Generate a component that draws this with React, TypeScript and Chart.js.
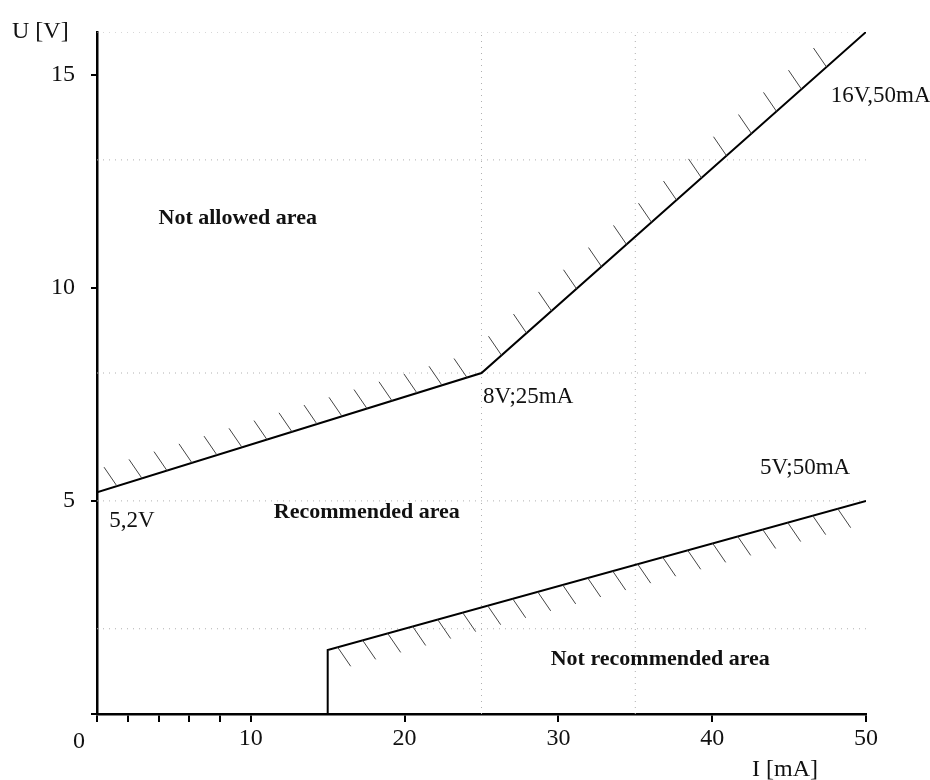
import React, { useEffect, useRef } from "react";
import { Chart, registerables } from "chart.js";

Chart.register(...registerables);

// ---- data ----
const upperCurrent = [0, 25, 50];
const upperVoltage = [5.2, 8, 16];
const lowerCurrent = [15, 15, 50];
const lowerVoltage = [0, 1.5, 5];

const xTickValues = [0, 2, 4, 6, 8, 10, 20, 30, 40, 50];
const xLabelValues = [10, 20, 30, 40, 50];
const yTickValues = [0, 5, 10, 15];
const yLabelValues = [5, 10, 15];

const gridVoltages = [2, 5, 8, 13, 16];
const gridCurrents = [25, 35];

const areaLabels = ["Not allowed area", "Recommended area", "Not recommended area"];
const areaLabelCurrent = [4, 11.5, 29.5];
const areaLabelVoltage = [11.5, 4.6, 1.15];

const pointLabels = ["5,2V", "8V;25mA", "16V,50mA", "5V;50mA"];
const pointLabelCurrent = [0.8, 25.1, 47.7, 43.1];
const pointLabelVoltage = [4.38, 7.3, 14.35, 5.62];

const xMin = 0;
const xMax = 50;
const yMin = 0;
const yMax = 16;

const SERIF = '"Liberation Serif", "Times New Roman", serif';

const zip = (xs: number[], ys: number[]) => xs.map((x, i) => ({ x, y: ys[i] }));

const hatchPlugin = {
  id: "hatch",
  afterDatasetsDraw(chart: any) {
    const ctx = chart.ctx;
    const area = chart.chartArea;
    chart.data.datasets.forEach((ds: any, i: number) => {
      if (!ds.hatch) return;
      const pts = chart.getDatasetMeta(i).data;
      const s = ds.hatch === "above" ? -1 : 1;
      ctx.save();
      ctx.strokeStyle = "#444";
      ctx.lineWidth = 1;
      ctx.beginPath();
      for (let k = 0; k < pts.length - 1; k++) {
        const a = pts[k];
        const b = pts[k + 1];
        if (Math.abs(b.x - a.x) < 1) continue;
        const start = s < 0 ? 20 : 10;
        for (let px = a.x + start; px < b.x - 8; px += 25) {
          const t = (px - a.x) / (b.x - a.x);
          const py = a.y + t * (b.y - a.y);
          const ex = px + s * 13;
          const ey = py + s * 19;
          if (ey < area.top + 8 || ey > area.bottom - 2) continue;
          ctx.moveTo(px, py);
          ctx.lineTo(ex, ey);
        }
      }
      ctx.stroke();
      ctx.restore();
    });
  },
};

const textPlugin = {
  id: "texts",
  afterDraw(chart: any) {
    const ctx = chart.ctx;
    const xs = chart.scales.x;
    const ys = chart.scales.y;
    const area = chart.chartArea;
    ctx.save();
    ctx.fillStyle = "#111";
    ctx.textAlign = "left";
    ctx.textBaseline = "alphabetic";

    ctx.font = `bold 22px ${SERIF}`;
    areaLabels.forEach((t, i) => {
      ctx.fillText(t, xs.getPixelForValue(areaLabelCurrent[i]), ys.getPixelForValue(areaLabelVoltage[i]));
    });

    ctx.font = `23px ${SERIF}`;
    pointLabels.forEach((t, i) => {
      ctx.fillText(t, xs.getPixelForValue(pointLabelCurrent[i]), ys.getPixelForValue(pointLabelVoltage[i]));
    });

    // axis titles and origin label
    ctx.font = `24px ${SERIF}`;
    ctx.fillText("U [V]", 12, 38);
    ctx.fillText("I [mA]", 752, 776);
    ctx.textAlign = "center";
    ctx.fillText("0", area.left - 18, area.bottom + 34);
    ctx.restore();
  },
};

export default function App() {
  const ref = useRef<HTMLCanvasElement>(null);

  useEffect(() => {
    document.body.style.margin = "0";
    const gridColor = "#b0b0b0";
    const datasets: any[] = [
      {
        label: "Upper limit",
        data: zip(upperCurrent, upperVoltage),
        borderColor: "#000",
        borderWidth: 2,
        pointRadius: 0,
        hatch: "above",
        order: 0,
      },
      {
        label: "Lower limit",
        data: zip(lowerCurrent, lowerVoltage),
        borderColor: "#000",
        borderWidth: 2,
        pointRadius: 0,
        hatch: "below",
        order: 0,
      },
      ...gridVoltages.map((v) => ({
        label: `grid ${v} V`,
        data: [
          { x: xMin, y: v },
          { x: xMax, y: v },
        ],
        borderColor: gridColor,
        borderWidth: 1,
        borderDash: [1, 5],
        pointRadius: 0,
        order: 5,
      })),
      ...gridCurrents.map((c) => ({
        label: `grid ${c} mA`,
        data: [
          { x: c, y: yMin },
          { x: c, y: yMax },
        ],
        borderColor: gridColor,
        borderWidth: 1,
        borderDash: [1, 5],
        pointRadius: 0,
        order: 5,
      })),
    ];

    const chart = new Chart(ref.current as HTMLCanvasElement, {
      type: "line",
      data: { datasets },
      options: {
        animation: false,
        responsive: false,
        devicePixelRatio: 1,
        layout: { padding: { top: 32, right: 64, left: 0, bottom: 0 } },
        plugins: {
          legend: { display: false },
          tooltip: { enabled: false },
        },
        elements: { line: { tension: 0 } },
        scales: {
          x: {
            type: "linear",
            min: xMin,
            max: xMax,
            afterBuildTicks: (s: any) => {
              s.ticks = xTickValues.map((v) => ({ value: v }));
            },
            afterFit: (s: any) => {
              s.height = 66;
            },
            border: { color: "#000", width: 2.5 },
            grid: {
              drawOnChartArea: false,
              drawTicks: true,
              tickLength: 8,
              color: "#000",
              lineWidth: 2,
            },
            ticks: {
              autoSkip: false,
              maxRotation: 0,
              padding: 2,
              color: "#111",
              font: { family: SERIF, size: 24 },
              callback: (v: any) => (xLabelValues.includes(Number(v)) ? String(v) : ""),
            },
          },
          y: {
            type: "linear",
            min: yMin,
            max: yMax,
            afterBuildTicks: (s: any) => {
              s.ticks = yTickValues.map((v) => ({ value: v }));
            },
            afterFit: (s: any) => {
              s.width = 97;
            },
            border: { color: "#000", width: 2.5 },
            grid: {
              drawOnChartArea: false,
              drawTicks: true,
              tickLength: 6,
              color: "#000",
              lineWidth: 2,
            },
            ticks: {
              autoSkip: false,
              padding: 16,
              color: "#111",
              font: { family: SERIF, size: 24 },
              callback: (v: any) => (yLabelValues.includes(Number(v)) ? String(v) : ""),
            },
          },
        },
      } as any,
      plugins: [hatchPlugin, textPlugin],
    });
    return () => chart.destroy();
  }, []);

  return (
    <div style={{ width: 930, height: 780 }}>
      <canvas ref={ref} width={930} height={780} style={{ display: "block" }} />
    </div>
  );
}
